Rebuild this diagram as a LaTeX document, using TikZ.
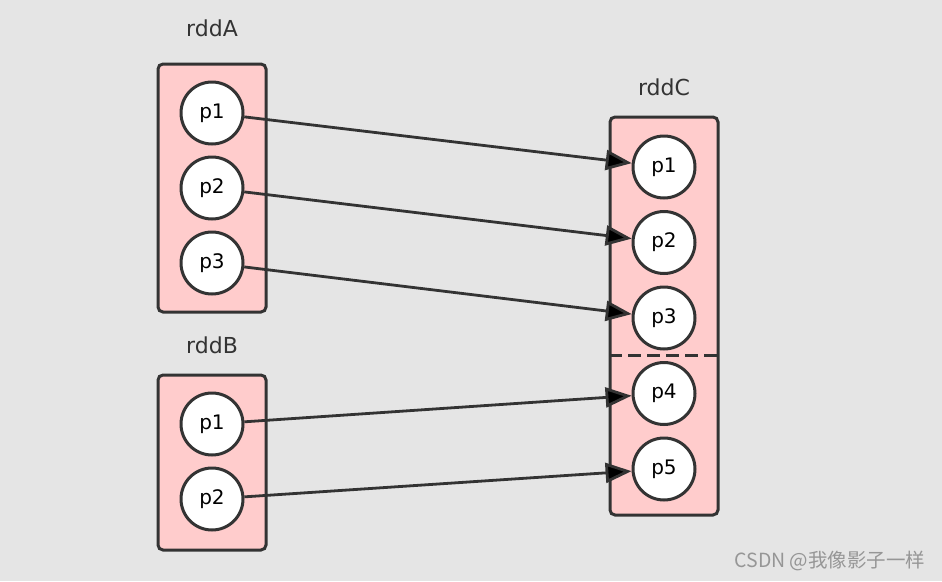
\documentclass[tikz,border=0pt]{standalone}
\usepackage{fontspec}
\setmainfont{DejaVu Sans}
\newfontfamily\cjkfont{Noto Sans CJK SC}
\usetikzlibrary{arrows.meta}
\definecolor{bgcol}{RGB}{229,229,229}
\definecolor{rddpink}{RGB}{255,204,204}
\definecolor{linecol}{RGB}{51,51,51}
\definecolor{markcol}{RGB}{150,150,150}
\begin{document}
\begin{tikzpicture}[x=1pt, y=-1pt, node distance=75pt,
                    rdd box/.style={rectangle,draw=linecol,fill=rddpink,line width=3pt,rounded corners=5pt,minimum width=108pt},
                    part node/.style={circle,draw=linecol,fill=white,line width=3pt,minimum size=62pt,inner sep=0pt,font=\fontsize{20}{22}\selectfont},
                    rdd label/.style={font=\fontsize{22}{24}\selectfont,text=linecol},
                    link/.style={draw=linecol,line width=2.8pt,-{Triangle[length=26pt,width=20pt]}}]

   \useasboundingbox[fill=bgcol] (0,0) rectangle (942,581);

   % the three rdds
   \node[rdd box,minimum height=248pt] (A) at (212,188) {};
   \node[rdd box,minimum height=175pt] (B) at (212,462.5) {};
   \node[rdd box,minimum height=398pt] (C) at (664,316) {};

   \node[rdd label] (labA) at (212,28) {rddA};
   \node[rdd label] (labB) at (212,345) {rddB};
   \node[rdd label] (labC) at (664,87) {rddC};

   % partitions
   \node[part node] (a1) at (212,113) {p1};
   \node[part node] (a2) [below of=a1] {p2};
   \node[part node] (a3) [below of=a2] {p3};

   \node[part node] (b1) at (212,424) {p1};
   \node[part node] (b2) [below of=b1] {p2};

   \begin{scope}[node distance=75.5pt]
   \node[part node] (c1) at (664,167) {p1};
   \node[part node] (c2) [below of=c1] {p2};
   \node[part node] (c3) [below of=c2] {p3};
   \node[part node] (c4) [below of=c3] {p4};
   \node[part node] (c5) [below of=c4] {p5};
   \end{scope}

   \coordinate (cutL) at (609,355);
   \coordinate (cutR) at (719,355);
   \draw[linecol,line width=3pt,dash pattern=on 13pt off 6pt] (cutL) -- (cutR);

   \path[link]
    (a1) edge (c1)
    (a2) edge (c2)
    (a3) edge (c3)
    (b1) edge (c4)
    (b2) edge (c5);

   \node[text=markcol,font=\cjkfont\fontsize{19.5}{21}\selectfont] (mark) at (830,561) {CSDN @我像影子一样};

\end{tikzpicture}
\end{document}
